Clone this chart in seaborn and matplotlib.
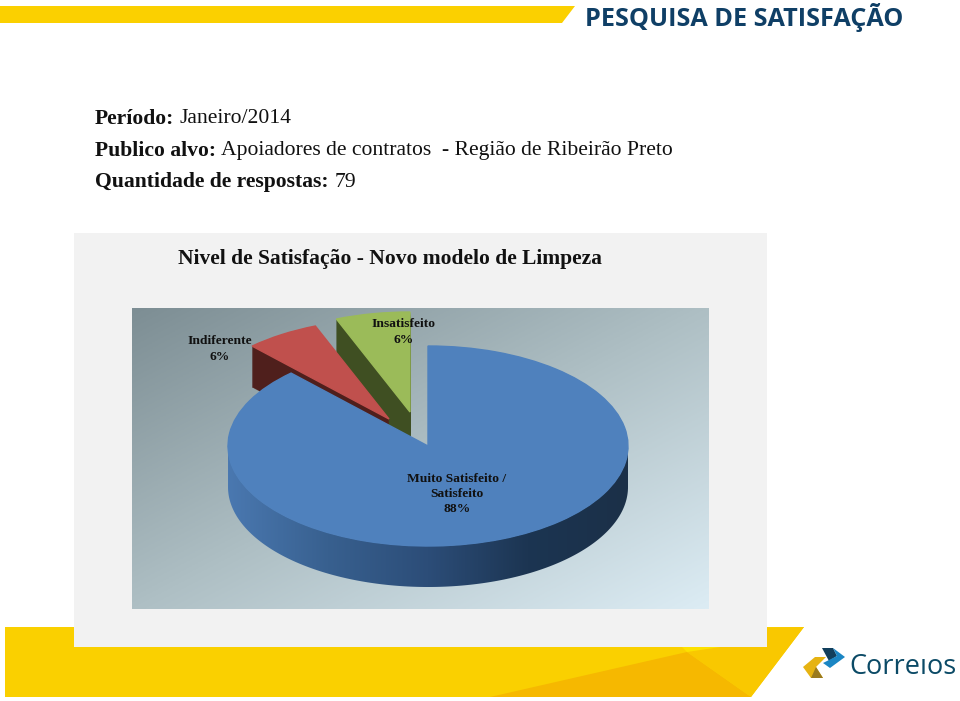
import numpy as np
import matplotlib
matplotlib.use("Agg")
import matplotlib.pyplot as plt
from matplotlib.path import Path
from matplotlib.patches import Polygon, PathPatch
import seaborn as sns

# data
categories = ["Muito Satisfeito /\nSatisfeito", "Indiferente", "Insatisfeito"]
label_pcts = ["88%", "6%", "6%"]
values = [88, 6, 6]
top_colors = ["#4f81bd", "#c0504d", "#9bbb59"]
wall_colors = ["#1f3a5c", "#4f1f1c", "#3f4f22"]

sns.set_theme(style="white")
plt.rcParams["font.family"] = ["Liberation Serif", "DejaVu Serif"]

fig = plt.figure(figsize=(9.6, 7.01), dpi=100, facecolor="white")

# page axes, in pixels
bg = fig.add_axes([0, 0, 1, 1])
bg.set_xlim(0, 960)
bg.set_ylim(701, 0)
bg.axis("off")

bg.add_patch(Polygon([(0, 6), (575, 6), (562, 23), (0, 23)], color="#fbd000", lw=0))
bg.add_patch(Polygon([(5, 627), (804, 627), (751, 697), (5, 697)], color="#fad000", lw=0))
bg.add_patch(Polygon([(490, 697), (687, 652), (751, 697)], color="#f6b800", lw=0))
bg.add_patch(Polygon([(687, 652), (767, 628), (804, 627), (751, 697)], color="#f9c800", lw=0))
bg.add_patch(Polygon([(680, 645), (767, 625), (767, 640), (687, 652)], color="#fde100", lw=0))
bg.add_patch(Polygon([(74, 233), (767, 233), (767, 647), (74, 647)], color="#f2f2f2", lw=0))

# gradient behind the pie
bg_cmap = sns.blend_palette(["#7d8e94", "#aebfc4", "#dcecf4"], as_cmap=True)
xx, yy = np.meshgrid(np.linspace(0, 1, 200), np.linspace(0, 1, 200))
bg.imshow(xx * 0.5 + yy * 0.5, cmap=bg_cmap, extent=(132, 709, 609, 308), aspect="auto", zorder=1)
bg.set_xlim(0, 960)
bg.set_ylim(701, 0)

# logo
bg.add_patch(Polygon([(822, 648), (833, 648), (837, 656), (829, 661)], color="#123f5c", lw=0))
bg.add_patch(Polygon([(833, 648), (845, 657), (830, 668), (823, 663), (837, 656)], color="#1b86c4", lw=0))
bg.add_patch(Polygon([(803, 667), (815, 657), (826, 657), (816, 667), (823, 678), (811, 678)], color="#e6b312", lw=0))
bg.add_patch(Polygon([(816, 667), (823, 678), (811, 678)], color="#9a7a1e", lw=0))
bg.text(849, 667, "Correıos", fontsize=19.5, family="Open Sans", color="#0b4a66", va="center", ha="left", zorder=3)

bg.text(585, 17, "PESQUISA DE SATISFAÇÃO", fontsize=18.15, family="Open Sans", fontweight="bold",
        color="#0f3f66", va="center", ha="left")

fs = 15.6
bg.text(95, 118.5, "Período:", fontsize=fs, fontweight="bold", color="#111111", va="center")
bg.text(179, 118.5, "Janeiro/2014", fontsize=fs, color="#111111", va="center")
bg.text(95, 150.5, "Publico alvo:", fontsize=fs, fontweight="bold", color="#111111", va="center")
bg.text(221, 150.5, "Apoiadores de contratos  - Região de Ribeirão Preto", fontsize=fs, color="#111111", va="center")
bg.text(95, 182.5, "Quantidade de respostas:", fontsize=fs, fontweight="bold", color="#111111", va="center")
bg.text(335, 182.5, "79", fontsize=fs, color="#111111", va="center")
bg.text(390, 259, "Nivel de Satisfação - Novo modelo de Limpeza", fontsize=15.5, fontweight="bold",
        color="#111111", va="center", ha="center")

# pie axes: one data unit is 200 px wide and 100 px tall, centre at (428, 446)
ax = fig.add_axes([0, 0, 1, 1], facecolor="none")
xlim = ((0 - 428) / 200, (960 - 428) / 200)
ylim = ((446 - 701) / 100, 446 / 100)
depth = 0.41
# pulled-out slices
shift = [(0, 0), (-0.195, 0.27), (-0.09, 0.34)]


def draw_slice(idx, color, drop=0.0, lw=1.0):
    colors = ["none"] * len(values)
    colors[idx] = color
    wedges, _ = ax.pie(values, colors=colors, startangle=90, counterclock=False, radius=1,
                       center=(shift[idx][0], shift[idx][1] - drop),
                       wedgeprops=dict(linewidth=0, edgecolor="none"))
    wedges[idx].set_edgecolor(color)
    wedges[idx].set_linewidth(lw)


for idx in [2, 1]:
    for drop in np.arange(depth, 0, -0.01):
        draw_slice(idx, wall_colors[idx], drop, lw=0.2)
    draw_slice(idx, top_colors[idx])

# front wall of the big slice, with its shading
t = np.linspace(np.pi, 2 * np.pi, 200)
wall_xy = np.r_[np.c_[np.cos(t), np.sin(t)], np.c_[np.cos(t[::-1]), np.sin(t[::-1]) - depth]]
wall_path = Path(np.r_[wall_xy, wall_xy[:1]], closed=True)
wall_cmap = sns.blend_palette(["#4a78b0", "#38608f", "#2c4d78", "#1c3552", "#1b3048"], as_cmap=True)
im = ax.imshow(np.linspace(0, 1, 256)[None, :], cmap=wall_cmap, extent=(-1, 1, -1 - depth, 0), aspect="auto")
im.set_clip_path(PathPatch(wall_path, transform=ax.transData))

draw_slice(0, top_colors[0])

ax.set_aspect("auto")
ax.set_xlim(xlim)
ax.set_ylim(ylim)
ax.set_position([0, 0, 1, 1])
ax.axis("off")

# slice labels, page pixels
lab_fs = 9.7
bg_labels = [(457, 494), (220, 349), (404, 332)]
for name, pct, (lx, ly) in zip(categories, label_pcts, bg_labels):
    ax.text((lx - 428) / 200, (446 - ly) / 100, name + "\n" + pct, fontsize=lab_fs, fontweight="bold",
            color="#111111", ha="center", va="center", linespacing=1.35)

fig.savefig("out.png", dpi=100)
